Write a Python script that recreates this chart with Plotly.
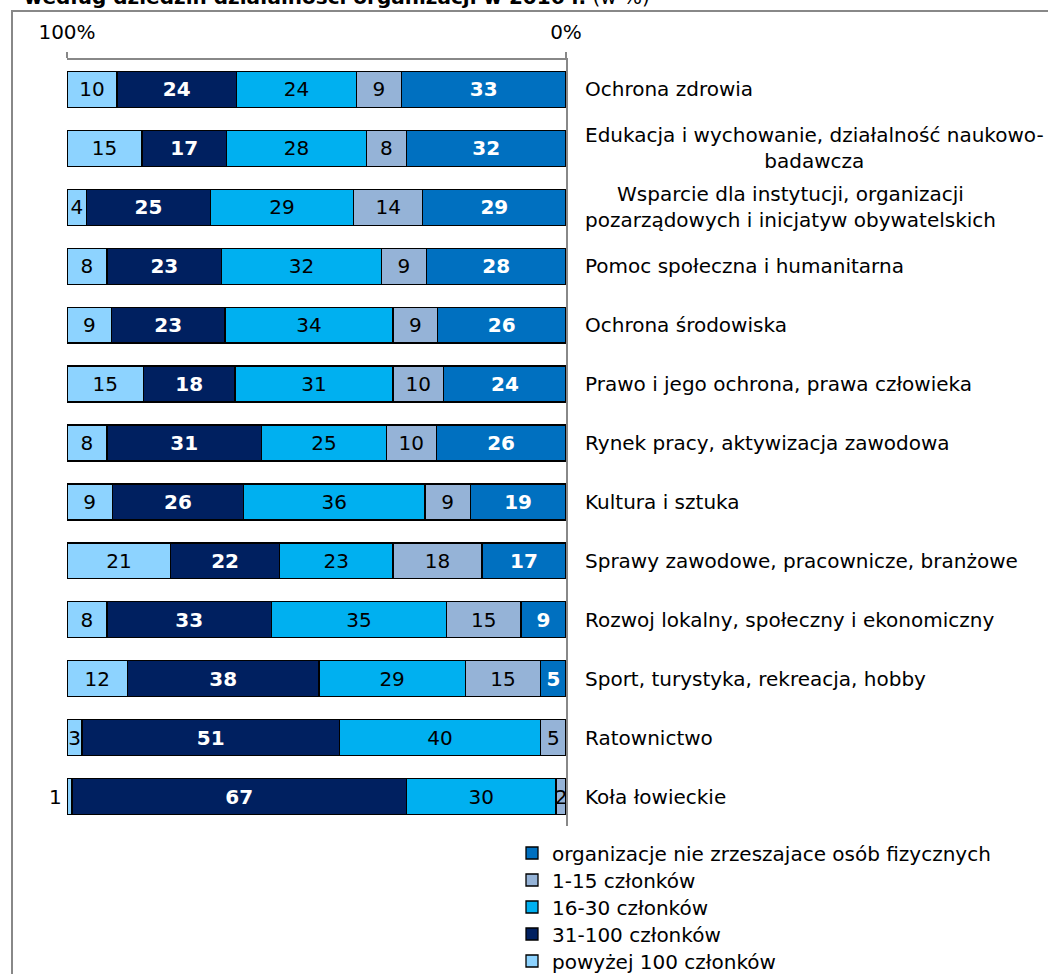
import plotly.graph_objects as go

categories = [
    "Ochrona zdrowia",
    "Edukacja i wychowanie, działalność naukowo-<br>badawcza",
    "Wsparcie dla instytucji, organizacji<br>pozarządowych i inicjatyw obywatelskich",
    "Pomoc społeczna i humanitarna",
    "Ochrona środowiska",
    "Prawo i jego ochrona, prawa człowieka",
    "Rynek pracy, aktywizacja zawodowa",
    "Kultura i sztuka",
    "Sprawy zawodowe, pracownicze, branżowe",
    "Rozwoj lokalny, społeczny i ekonomiczny",
    "Sport, turystyka, rekreacja, hobby",
    "Ratownictwo",
    "Koła łowieckie",
]

series_names = [
    "organizacje nie zrzeszajace osób fizycznych",
    "1-15 członków",
    "16-30 członków",
    "31-100 członków",
    "powyżej 100 członków",
]

org_nie_zrzeszajace = [33, 32, 29, 28, 26, 24, 26, 19, 17, 9, 5, 0, 0]
czl_1_15 = [9, 8, 14, 9, 9, 10, 10, 9, 18, 15, 15, 5, 2]
czl_16_30 = [24, 28, 29, 32, 34, 31, 25, 36, 23, 35, 29, 40, 30]
czl_31_100 = [24, 17, 25, 23, 23, 18, 31, 26, 22, 33, 38, 51, 67]
czl_pow_100 = [10, 15, 4, 8, 9, 15, 8, 9, 21, 8, 12, 3, 1]

series_values = [org_nie_zrzeszajace, czl_1_15, czl_16_30, czl_31_100, czl_pow_100]
colors = ["#0070C0", "#95B3D7", "#00B0F0", "#002060", "#8DD3FF"]
bold_white = [True, False, False, True, False]

x_ticks = [100, 0]
x_ticktext = ["100%", "0%"]

title_bold = "według dziedzin działalności organizacji w 2016 r."
title_rest = " (w %)"

FONT = "Verdana, DejaVu Sans, sans-serif"
FS = 20
W, H = 1048, 974
ML, MR, MT, MB = 67, 482, 60, 148
PW = W - ML - MR
PH = H - MT - MB


def px_to_paper_x(px):
    return (px - ML) / PW


def px_to_paper_y(py):
    return (H - MB - py) / PH


legend_ids = ["legend", "legend2", "legend3", "legend4", "legend5"]
legend_rows_px = [853, 880, 907, 934, 961]

fig = go.Figure()
outside_labels = []
for i, (name, vals) in enumerate(zip(series_names, series_values)):
    texts = []
    for j, v in enumerate(vals):
        if v == 0:
            texts.append("")
        elif v == 1:
            texts.append("")
            outside_labels.append((categories[j], v))
        else:
            texts.append(str(v))
    tmpl = "<b>%{text}</b>" if bold_white[i] else "%{text}"
    fig.add_trace(go.Bar(
        y=categories,
        x=vals,
        orientation="h",
        name=name,
        legend=legend_ids[i],
        marker=dict(color=colors[i], line=dict(color="#000000", width=1.3)),
        text=texts,
        texttemplate=tmpl,
        textposition="inside",
        insidetextanchor="middle",
        textangle=0,
        constraintext="none",
        insidetextfont=dict(family=FONT, size=FS,
                            color="#FFFFFF" if bold_white[i] else "#000000"),
        hoverinfo="skip",
    ))

annotations = []
for cat in categories:
    annotations.append(dict(
        x=1, xref="paper", y=cat, yref="y",
        text=cat, showarrow=False, xanchor="left", align="center",
        xshift=17, font=dict(family=FONT, size=FS, color="#000000"),
    ))

for cat, v in outside_labels:
    annotations.append(dict(
        x=100, xref="x", y=cat, yref="y",
        text=str(v), showarrow=False, xanchor="right", xshift=-3,
        font=dict(family=FONT, size=FS, color="#000000"),
    ))

annotations.append(dict(
    x=px_to_paper_x(22), xref="paper", y=px_to_paper_y(11), yref="paper",
    text="<b>" + title_bold + "</b>" + title_rest,
    showarrow=False, xanchor="left", yanchor="bottom",
    font=dict(family=FONT, size=FS, color="#000000"),
))

legend_layout = {}
for lid, row in zip(legend_ids, legend_rows_px):
    legend_layout[lid] = dict(
        x=px_to_paper_x(512), y=px_to_paper_y(row), xanchor="left", yanchor="middle",
        font=dict(family=FONT, size=FS, color="#000000"),
        bgcolor="rgba(0,0,0,0)", borderwidth=0,
    )

fig.update_layout(
    width=W, height=H,
    margin=dict(l=ML, r=MR, t=MT, b=MB, autoexpand=False),
    paper_bgcolor="#FFFFFF", plot_bgcolor="#FFFFFF",
    barmode="stack", barnorm="percent", bargap=0.39,
    uniformtext=dict(minsize=FS, mode="show"),
    font=dict(family=FONT, size=FS, color="#000000"),
    xaxis=dict(
        range=[100, 0], side="top", tickvals=x_ticks, ticktext=x_ticktext,
        showgrid=False, zeroline=False, showline=True, linecolor="#888888",
        linewidth=1.5, ticks="outside", ticklen=6, tickcolor="#888888",
        tickwidth=1.5, ticklabelstandoff=5, automargin=False,
        tickfont=dict(family=FONT, size=FS, color="#000000"),
    ),
    yaxis=dict(
        autorange="reversed", side="right", showticklabels=False,
        showgrid=False, zeroline=False, showline=True, linecolor="#888888",
        linewidth=1.5, ticks="", automargin=False,
    ),
    showlegend=True,
    annotations=annotations,
    shapes=[dict(
        type="rect", xref="paper", yref="paper",
        x0=px_to_paper_x(12), x1=px_to_paper_x(1100),
        y0=px_to_paper_y(1100), y1=px_to_paper_y(11),
        line=dict(color="#888888", width=2), fillcolor="rgba(0,0,0,0)",
        layer="below",
    )],
    **legend_layout,
)

fig.write_html(
    "out.html",
    config={"displayModeBar": False},
    post_script="document.body.style.margin='0';document.body.style.overflow='hidden';",
)
